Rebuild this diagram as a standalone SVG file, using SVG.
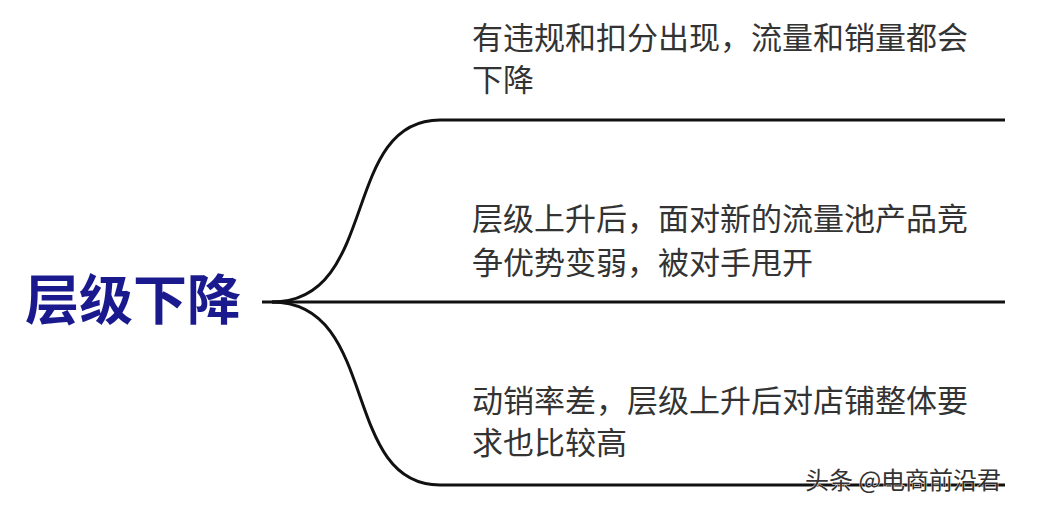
<svg xmlns="http://www.w3.org/2000/svg" width="1038" height="506" viewBox="0 0 1038 506">
<style>
.t{font-family:"Noto Sans CJK SC","Noto Sans",sans-serif;font-size:31px;fill:#333333;}
.root{font-family:"Noto Sans CJK SC","Noto Sans",sans-serif;font-size:54px;font-weight:bold;fill:#1a1a8e;}
.c{fill:none;stroke:#111111;stroke-width:3;stroke-linecap:butt;}
.wm{font-family:"Noto Sans CJK SC","Noto Sans",sans-serif;font-size:24px;fill:#333333;stroke:#ffffff;stroke-width:0.8;paint-order:stroke;}
</style>
<rect width="1038" height="506" fill="#ffffff"/>
<g id="connectors">
<path class="c" d="M 262 302 L 1005 302"/>
<path class="c" d="M 272 302 C 380 302, 340 120, 440 120 L 1005 120"/>
<path class="c" d="M 272 302 C 380 302, 340 485, 440 485 L 1005 485"/>
</g>
<g id="root"><text class="root" x="25" y="320">层级下降</text></g>
<g id="n1"><text class="t" x="472" y="49">有违规和扣分出现，流量和销量都会</text><text class="t" x="472" y="91">下降</text></g>
<g id="n2"><text class="t" x="472" y="230">层级上升后，面对新的流量池产品竞</text><text class="t" x="472" y="274">争优势变弱，被对手甩开</text></g>
<g id="n3"><text class="t" x="472" y="412">动销率差，层级上升后对店铺整体要</text><text class="t" x="472" y="454">求也比较高</text></g>
<text class="wm" x="805" y="489">头条 @电商前沿君</text>
</svg>
